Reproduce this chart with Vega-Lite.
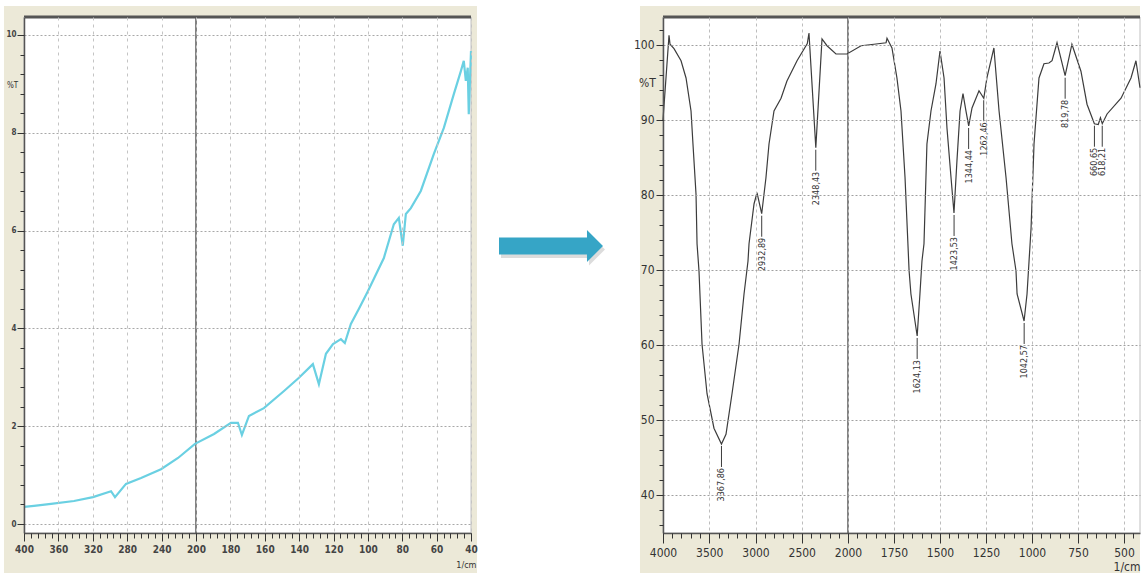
{
  "$schema": "https://vega.github.io/schema/vega-lite/v6.json",
  "background": "white",
  "padding": {"left": 3, "top": 5, "right": 0, "bottom": 0},
  "spacing": 0,
  "config": {
    "axis": {"labelFont": "Liberation Sans Narrow, DejaVu Sans Condensed, sans-serif", "titleFont": "Liberation Sans Narrow, DejaVu Sans Condensed, sans-serif", "labelColor": "#333", "titleColor": "#333", "ticks": true, "tickColor": "#333", "tickOpacity": 1, "tickWidth": 1, "domainColor": "#444", "titleFontWeight": "normal"}
  },
  "datasets": {
    "left": [
      {"wn": 4000, "t": 0.35}, {"wn": 3884, "t": 0.37}, {"wn": 3686, "t": 0.41}, {"wn": 3419, "t": 0.47}, {"wn": 3198, "t": 0.55},
      {"wn": 2988, "t": 0.67}, {"wn": 2942, "t": 0.55}, {"wn": 2814, "t": 0.82}, {"wn": 2639, "t": 0.94}, {"wn": 2407, "t": 1.12},
      {"wn": 2209, "t": 1.35}, {"wn": 2012, "t": 1.64}, {"wn": 1895, "t": 1.84}, {"wn": 1797, "t": 2.07}, {"wn": 1756, "t": 2.07},
      {"wn": 1733, "t": 1.82}, {"wn": 1692, "t": 2.21}, {"wn": 1605, "t": 2.37}, {"wn": 1488, "t": 2.72}, {"wn": 1401, "t": 2.99},
      {"wn": 1320, "t": 3.27}, {"wn": 1285, "t": 2.86}, {"wn": 1244, "t": 3.48}, {"wn": 1203, "t": 3.68}, {"wn": 1157, "t": 3.78},
      {"wn": 1134, "t": 3.70}, {"wn": 1099, "t": 4.09}, {"wn": 1052, "t": 4.40}, {"wn": 1000, "t": 4.76}, {"wn": 907, "t": 5.44},
      {"wn": 849, "t": 6.13}, {"wn": 820, "t": 6.26}, {"wn": 797, "t": 5.69}, {"wn": 779, "t": 6.34}, {"wn": 750, "t": 6.46},
      {"wn": 692, "t": 6.81}, {"wn": 616, "t": 7.57}, {"wn": 558, "t": 8.10}, {"wn": 500, "t": 8.79}, {"wn": 459, "t": 9.26},
      {"wn": 442, "t": 9.47}, {"wn": 430, "t": 9.06}, {"wn": 419, "t": 9.33}, {"wn": 413, "t": 8.38}, {"wn": 400, "t": 9.67}
    ],
    "right": [
      {"wn": 4000, "t": 90}, {"wn": 3935, "t": 101.3}, {"wn": 3924, "t": 100.1}, {"wn": 3881, "t": 99.5}, {"wn": 3805, "t": 97.9},
      {"wn": 3751, "t": 95.6}, {"wn": 3697, "t": 91.2}, {"wn": 3676, "t": 86.8}, {"wn": 3643, "t": 80.1}, {"wn": 3632, "t": 73.5},
      {"wn": 3611, "t": 69.9}, {"wn": 3578, "t": 60.1}, {"wn": 3524, "t": 53.5}, {"wn": 3449, "t": 48.9}, {"wn": 3368, "t": 46.8},
      {"wn": 3319, "t": 48.1}, {"wn": 3254, "t": 53.5}, {"wn": 3178, "t": 60.1}, {"wn": 3124, "t": 66.8}, {"wn": 3081, "t": 71.2},
      {"wn": 3070, "t": 73.5}, {"wn": 3016, "t": 78.8}, {"wn": 2984, "t": 80.3}, {"wn": 2933, "t": 77.5}, {"wn": 2887, "t": 82.3},
      {"wn": 2854, "t": 86.8}, {"wn": 2800, "t": 91.2}, {"wn": 2724, "t": 92.9}, {"wn": 2660, "t": 95.2}, {"wn": 2551, "t": 97.9},
      {"wn": 2440, "t": 100.2}, {"wn": 2422, "t": 101.6}, {"wn": 2348, "t": 86.3}, {"wn": 2281, "t": 100.8}, {"wn": 2227, "t": 99.9},
      {"wn": 2130, "t": 98.8}, {"wn": 2011, "t": 98.8}, {"wn": 1929, "t": 99.9}, {"wn": 1859, "t": 100.1}, {"wn": 1793, "t": 100.3},
      {"wn": 1788, "t": 100.9}, {"wn": 1761, "t": 99.6}, {"wn": 1734, "t": 95.6}, {"wn": 1712, "t": 91.2}, {"wn": 1690, "t": 82.3},
      {"wn": 1668, "t": 69.9}, {"wn": 1658, "t": 66.8}, {"wn": 1624, "t": 61.2}, {"wn": 1609, "t": 66.8}, {"wn": 1598, "t": 71.2},
      {"wn": 1587, "t": 73.5}, {"wn": 1571, "t": 86.8}, {"wn": 1549, "t": 91.2}, {"wn": 1522, "t": 94.8}, {"wn": 1500, "t": 99.2},
      {"wn": 1478, "t": 95.6}, {"wn": 1462, "t": 88.9}, {"wn": 1440, "t": 82.3}, {"wn": 1424, "t": 77.6}, {"wn": 1408, "t": 84.5},
      {"wn": 1391, "t": 91.2}, {"wn": 1375, "t": 93.5}, {"wn": 1359, "t": 91.2}, {"wn": 1344, "t": 89.2}, {"wn": 1326, "t": 91.6},
      {"wn": 1288, "t": 93.9}, {"wn": 1262, "t": 92.9}, {"wn": 1245, "t": 95.6}, {"wn": 1207, "t": 99.6}, {"wn": 1179, "t": 91.2},
      {"wn": 1141, "t": 82.3}, {"wn": 1109, "t": 73.5}, {"wn": 1087, "t": 69.9}, {"wn": 1081, "t": 66.8}, {"wn": 1043, "t": 63.2},
      {"wn": 1027, "t": 66.8}, {"wn": 1016, "t": 71.2}, {"wn": 1005, "t": 75.6}, {"wn": 989, "t": 86.8}, {"wn": 962, "t": 95.6},
      {"wn": 935, "t": 97.5}, {"wn": 908, "t": 97.6}, {"wn": 891, "t": 97.9}, {"wn": 864, "t": 100.3}, {"wn": 820, "t": 95.9},
      {"wn": 783, "t": 100.1}, {"wn": 734, "t": 96.5}, {"wn": 701, "t": 92.1}, {"wn": 661, "t": 89.5}, {"wn": 640, "t": 89.4},
      {"wn": 628, "t": 90.3}, {"wn": 618, "t": 89.5}, {"wn": 592, "t": 90.8}, {"wn": 516, "t": 92.9}, {"wn": 462, "t": 95.6},
      {"wn": 435, "t": 97.9}, {"wn": 413, "t": 94.3}
    ],
    "peaks": [
      {"wn": 3367.86, "t": 46.8, "label": "3367,86"},
      {"wn": 2932.89, "t": 77.5, "label": "2932,89"},
      {"wn": 2348.43, "t": 86.3, "label": "2348,43"},
      {"wn": 1624.13, "t": 61.2, "label": "1624,13"},
      {"wn": 1423.53, "t": 77.6, "label": "1423,53"},
      {"wn": 1344.44, "t": 89.2, "label": "1344,44"},
      {"wn": 1262.46, "t": 92.9, "label": "1262,46"},
      {"wn": 1042.57, "t": 63.2, "label": "1042,57"},
      {"wn": 819.78, "t": 95.9, "label": "819,78"},
      {"wn": 660.65, "t": 89.5, "label": "660,65"},
      {"wn": 618.21, "t": 89.5, "label": "618,21"}
    ]
  },
  "hconcat": [
    {
      "width": 447,
      "height": 516,
      "view": {"stroke": null},
      "layer": [
        {
          "data": {"values": [{"frame": "outer"}]},
          "mark": {"type": "rect", "color": "#ece9d8"},
          "encoding": {
            "x": {"datum": 4233, "type": "quantitative",
              "scale": {"domain": [4000, 2000, 400], "range": [0, 172, 447], "nice": false, "zero": false},
              "axis": {"orient": "bottom", "zindex": 1, "values": [4000, 3600, 3200, 2800, 2400, 2000, 1800, 1600, 1400, 1200, 1000, 800, 600, 400],
                "labelExpr": "format(datum.value / 10, 'd')", "labelFontSize": 10, "labelFontWeight": "bold", "labelColor": "#444", "labelFlush": false, "labelOverlap": false,
                "ticks": true, "tickSize": 8, "tickColor": "#333", "labelPadding": 3, "grid": true, "gridDash": [3, 4], "gridColor": "#c4c4c4",
                "domainColor": "#555", "domainWidth": 1.5,
                "title": "1/cm", "titleFontSize": 9, "titleX": 452, "titleY": 31, "titleAlign": "right", "titleBaseline": "middle", "titleAnchor": "end"}},
            "x2": {"datum": 365},
            "y": {"datum": 10.593, "type": "quantitative",
              "scale": {"domain": [-0.184, 10.368], "nice": false, "zero": false},
              "axis": {"orient": "left", "zindex": 1, "values": [0, 2, 4, 6, 8, 10], "labelFontSize": 8, "labelFontWeight": "bold", "labelColor": "#444",
                "ticks": true, "tickSize": 7, "tickColor": "#333", "labelPadding": 1, "grid": true, "gridDash": [2, 2], "gridColor": "#a8a8a8",
                "domainColor": "#555", "domainWidth": 1.5,
                "title": "%T", "titleAngle": 0, "titleFontSize": 8, "titleX": -12, "titleY": 68, "titleAlign": "center", "titleBaseline": "middle", "titleAnchor": "start"}},
            "y2": {"datum": -1.002}
          }
        },
        {
          "data": {"values": [{"frame": "plot"}]},
          "mark": {"type": "rect", "fill": "white", "stroke": "#c0c0c0", "strokeWidth": 1},
          "encoding": {
            "x": {"datum": 4000, "type": "quantitative",
              "axis": {"orient": "bottom", "zindex": 2, "values": [4000,3920,3840,3760,3680,3600,3520,3440,3360,3280,3200,3120,3040,2960,2880,2800,2720,2640,2560,2480,2400,2320,2240,2160,2080,2000,1960,1920,1880,1840,1800,1760,1720,1680,1640,1600,1560,1520,1480,1440,1400,1360,1320,1280,1240,1200,1160,1120,1080,1040,1000,960,920,880,840,800,760,720,680,640,600,560,520,480,440,400],
                "labels": false, "grid": false, "domain": false, "ticks": true, "tickSize": 5, "tickColor": "#333", "title": null}},
            "x2": {"datum": 400},
            "y": {"datum": 10.368, "type": "quantitative",
              "axis": {"orient": "left", "zindex": 2, "values": [0,0.4,0.8,1.2,1.6,2,2.4,2.8,3.2,3.6,4,4.4,4.8,5.2,5.6,6,6.4,6.8,7.2,7.6,8,8.4,8.8,9.2,9.6,10],
                "labels": false, "grid": false, "domain": false, "ticks": true, "tickSize": 4, "tickColor": "#333", "title": null}},
            "y2": {"datum": -0.184}
          }
        },
        {
          "data": {"values": [{"mark": "2000"}]},
          "mark": {"type": "rule", "color": "#5a5a5a", "strokeWidth": 1.5},
          "encoding": {"x": {"datum": 2000, "type": "quantitative", "axis": null}}
        },
        {
          "data": {"values": [{"mark": "top"}]},
          "mark": {"type": "rule", "color": "#555", "strokeWidth": 3},
          "encoding": {"y": {"datum": 10.368, "type": "quantitative", "axis": null}}
        },
        {
          "data": {"name": "left"},
          "mark": {"type": "line", "color": "#6ad0e2", "strokeWidth": 2.2},
          "encoding": {
            "x": {"field": "wn", "type": "quantitative", "axis": null},
            "y": {"field": "t", "type": "quantitative", "axis": null}
          }
        }
      ],
      "resolve": {"axis": {"x": "independent", "y": "independent"}}
    },
    {
      "width": 155,
      "height": 458,
      "view": {"stroke": null},
      "data": {"values": [{"shape": "arrow"}]},
      "layer": [
        {
          "mark": {"type": "point", "shape": "M -1 -0.163 L 0.692 -0.163 L 0.692 -0.308 L 1 0 L 0.692 0.308 L 0.692 0.163 L -1 0.163 Z", "size": 10816, "filled": true, "color": "#8a8a8a", "opacity": 0.3, "strokeWidth": 0, "xOffset": -2.5, "yOffset": 3.5},
          "encoding": {}
        },
        {
          "mark": {"type": "point", "shape": "M -1 -0.163 L 0.692 -0.163 L 0.692 -0.308 L 1 0 L 0.692 0.308 L 0.692 0.163 L -1 0.163 Z", "size": 10816, "filled": true, "color": "#36a5c6", "opacity": 1, "strokeWidth": 0, "xOffset": -4.5},
          "encoding": {}
        }
      ]
    },
    {
      "width": 477,
      "height": 516,
      "view": {"stroke": null},
      "layer": [
        {
          "data": {"values": [{"frame": "outer"}]},
          "mark": {"type": "rect", "color": "#ece9d8"},
          "encoding": {
            "x": {"datum": 4249, "type": "quantitative",
              "scale": {"domain": [4000, 2000, 413], "range": [0, 185, 477], "nice": false, "zero": false},
              "axis": {"orient": "bottom", "zindex": 1, "values": [4000, 3500, 3000, 2500, 2000, 1750, 1500, 1250, 1000, 750, 500], "format": "d",
                "labelFontSize": 12, "labelColor": "#333", "labelFlush": false, "labelOverlap": false, "ticks": true, "tickSize": 10, "tickColor": "#333", "labelPadding": 4,
                "grid": true, "gridDash": [3, 3], "gridColor": "#bdbdbd", "domainColor": "#555", "domainWidth": 1.5,
                "title": "1/cm", "titleFontSize": 12, "titleX": 477, "titleY": 33, "titleAlign": "right", "titleBaseline": "middle", "titleAnchor": "end"}},
            "x2": {"datum": 413},
            "y": {"datum": 105.2, "type": "quantitative",
              "scale": {"domain": [34.93, 103.73], "nice": false, "zero": false},
              "axis": {"orient": "left", "zindex": 1, "values": [40, 50, 60, 70, 80, 90, 100], "labelFontSize": 12, "labelColor": "#333",
                "ticks": true, "tickSize": 7, "tickColor": "#333", "labelPadding": 2, "grid": true, "gridDash": [2, 2], "gridColor": "#a0a0a0",
                "domainColor": "#555", "domainWidth": 1.5,
                "title": "%T", "titleAngle": 0, "titleFontSize": 12, "titleX": -16, "titleY": 65, "titleAlign": "center", "titleBaseline": "middle", "titleAnchor": "start"}},
            "y2": {"datum": 29.47}
          }
        },
        {
          "data": {"values": [{"frame": "plot"}]},
          "mark": {"type": "rect", "fill": "white", "stroke": "#c0c0c0", "strokeWidth": 1},
          "encoding": {
            "x": {"datum": 4000, "type": "quantitative",
              "axis": {"orient": "bottom", "zindex": 2, "values": [4000,3900,3800,3700,3600,3500,3400,3300,3200,3100,3000,2900,2800,2700,2600,2500,2400,2300,2200,2100,2000,1950,1900,1850,1800,1750,1700,1650,1600,1550,1500,1450,1400,1350,1300,1250,1200,1150,1100,1050,1000,950,900,850,800,750,700,650,600,550,500,450],
                "labels": false, "grid": false, "domain": false, "ticks": true, "tickSize": 5, "tickColor": "#333", "title": null}},
            "x2": {"datum": 413},
            "y": {"datum": 103.73, "type": "quantitative",
              "axis": {"orient": "left", "zindex": 2, "values": [36,38,40,42,44,46,48,50,52,54,56,58,60,62,64,66,68,70,72,74,76,78,80,82,84,86,88,90,92,94,96,98,100,102],
                "labels": false, "grid": false, "domain": false, "ticks": true, "tickSize": 4, "tickColor": "#333", "title": null}},
            "y2": {"datum": 34.93}
          }
        },
        {
          "data": {"values": [{"mark": "2000"}]},
          "mark": {"type": "rule", "color": "#5a5a5a", "strokeWidth": 1.5},
          "encoding": {"x": {"datum": 2000, "type": "quantitative", "axis": null}}
        },
        {
          "data": {"values": [{"mark": "top"}]},
          "mark": {"type": "rule", "color": "#555", "strokeWidth": 3},
          "encoding": {"y": {"datum": 103.73, "type": "quantitative", "axis": null}}
        },
        {
          "data": {"name": "right"},
          "mark": {"type": "line", "color": "#3c3c3c", "strokeWidth": 1.2},
          "encoding": {
            "x": {"field": "wn", "type": "quantitative", "axis": null},
            "y": {"field": "t", "type": "quantitative", "axis": null}
          }
        },
        {
          "data": {"name": "peaks"},
          "mark": {"type": "rule", "color": "#3c3c3c", "strokeWidth": 1, "yOffset": 2, "y2Offset": 23},
          "encoding": {
            "x": {"field": "wn", "type": "quantitative", "axis": null},
            "y": {"field": "t", "type": "quantitative", "axis": null},
            "y2": {"field": "t"}
          }
        },
        {
          "data": {"name": "peaks"},
          "mark": {"type": "text", "angle": 270, "align": "right", "baseline": "middle", "yOffset": 24, "fontSize": 9, "color": "#333", "font": "Liberation Sans Narrow, DejaVu Sans Condensed, sans-serif"},
          "encoding": {
            "x": {"field": "wn", "type": "quantitative", "axis": null},
            "y": {"field": "t", "type": "quantitative", "axis": null},
            "text": {"field": "label"}
          }
        }
      ],
      "resolve": {"axis": {"x": "independent", "y": "independent"}}
    }
  ]
}
